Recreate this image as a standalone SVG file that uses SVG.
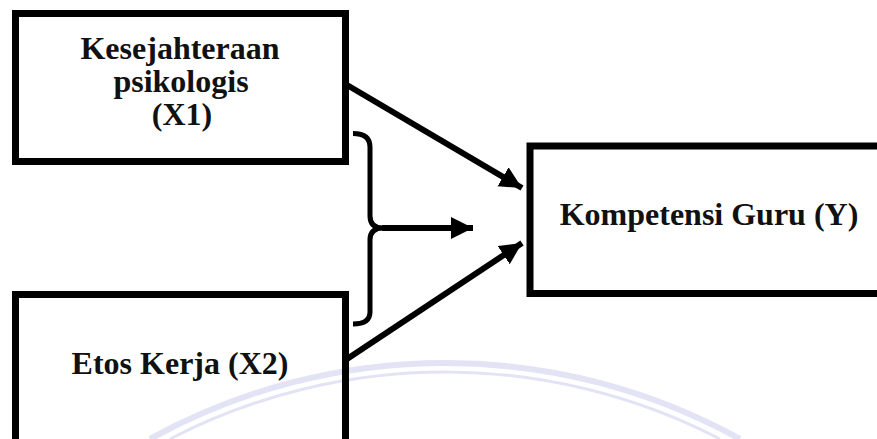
<svg xmlns="http://www.w3.org/2000/svg" width="877" height="439" viewBox="0 0 877 439">
<style>
.box{fill:none;stroke:#000;stroke-width:7}
.lbl{font-family:"Liberation Serif","Times New Roman",serif;font-weight:bold;font-size:32px;fill:#111;text-anchor:middle}
.con{stroke:#000;stroke-width:6;fill:none}
.wm{fill:none;stroke:#e3e3f6}
</style>
<defs>
<marker id="ah" markerUnits="userSpaceOnUse" markerWidth="24" markerHeight="24" refX="22" refY="11" orient="auto">
<path d="M0,0 L22,11 L0,22 Z" fill="#000"/>
</marker>
</defs>
<rect width="877" height="439" fill="#fff"/>
<g id="watermark">
<path class="wm" stroke-width="6" d="M150,439 A610,610 0 0 1 740,439"/>
<path class="wm" stroke-width="3" d="M170,439 A598,598 0 0 1 720,439"/>
</g>
<g id="node-x1">
<rect class="box" x="15.5" y="13.5" width="330" height="148"/>
<text class="lbl" x="180" y="59">Kesejahteraan</text>
<text class="lbl" x="181" y="92">psikologis</text>
<text class="lbl" x="182" y="125">(X1)</text>
</g>
<g id="node-x2">
<rect class="box" x="15.5" y="294.5" width="330" height="200"/>
<text class="lbl" x="180" y="374">Etos Kerja (X2)</text>
</g>
<g id="node-y">
<rect class="box" x="530" y="146" width="400" height="147.5"/>
<text class="lbl" x="709" y="225">Kompetensi Guru (Y)</text>
</g>
<g id="connectors">
<line class="con" x1="347" y1="85" x2="522" y2="188" marker-end="url(#ah)"/>
<line class="con" x1="347" y1="359" x2="522" y2="243" marker-end="url(#ah)"/>
<path d="M353,133.5 Q370,133.5 370,147 L370,216 Q370,228 383,228 Q370,228 370,240 L370,312 Q370,324 353,324" fill="none" stroke="#000" stroke-width="5" stroke-linejoin="round"/>
<line class="con" x1="382" y1="228" x2="473" y2="228" marker-end="url(#ah)"/>
</g>
</svg>
